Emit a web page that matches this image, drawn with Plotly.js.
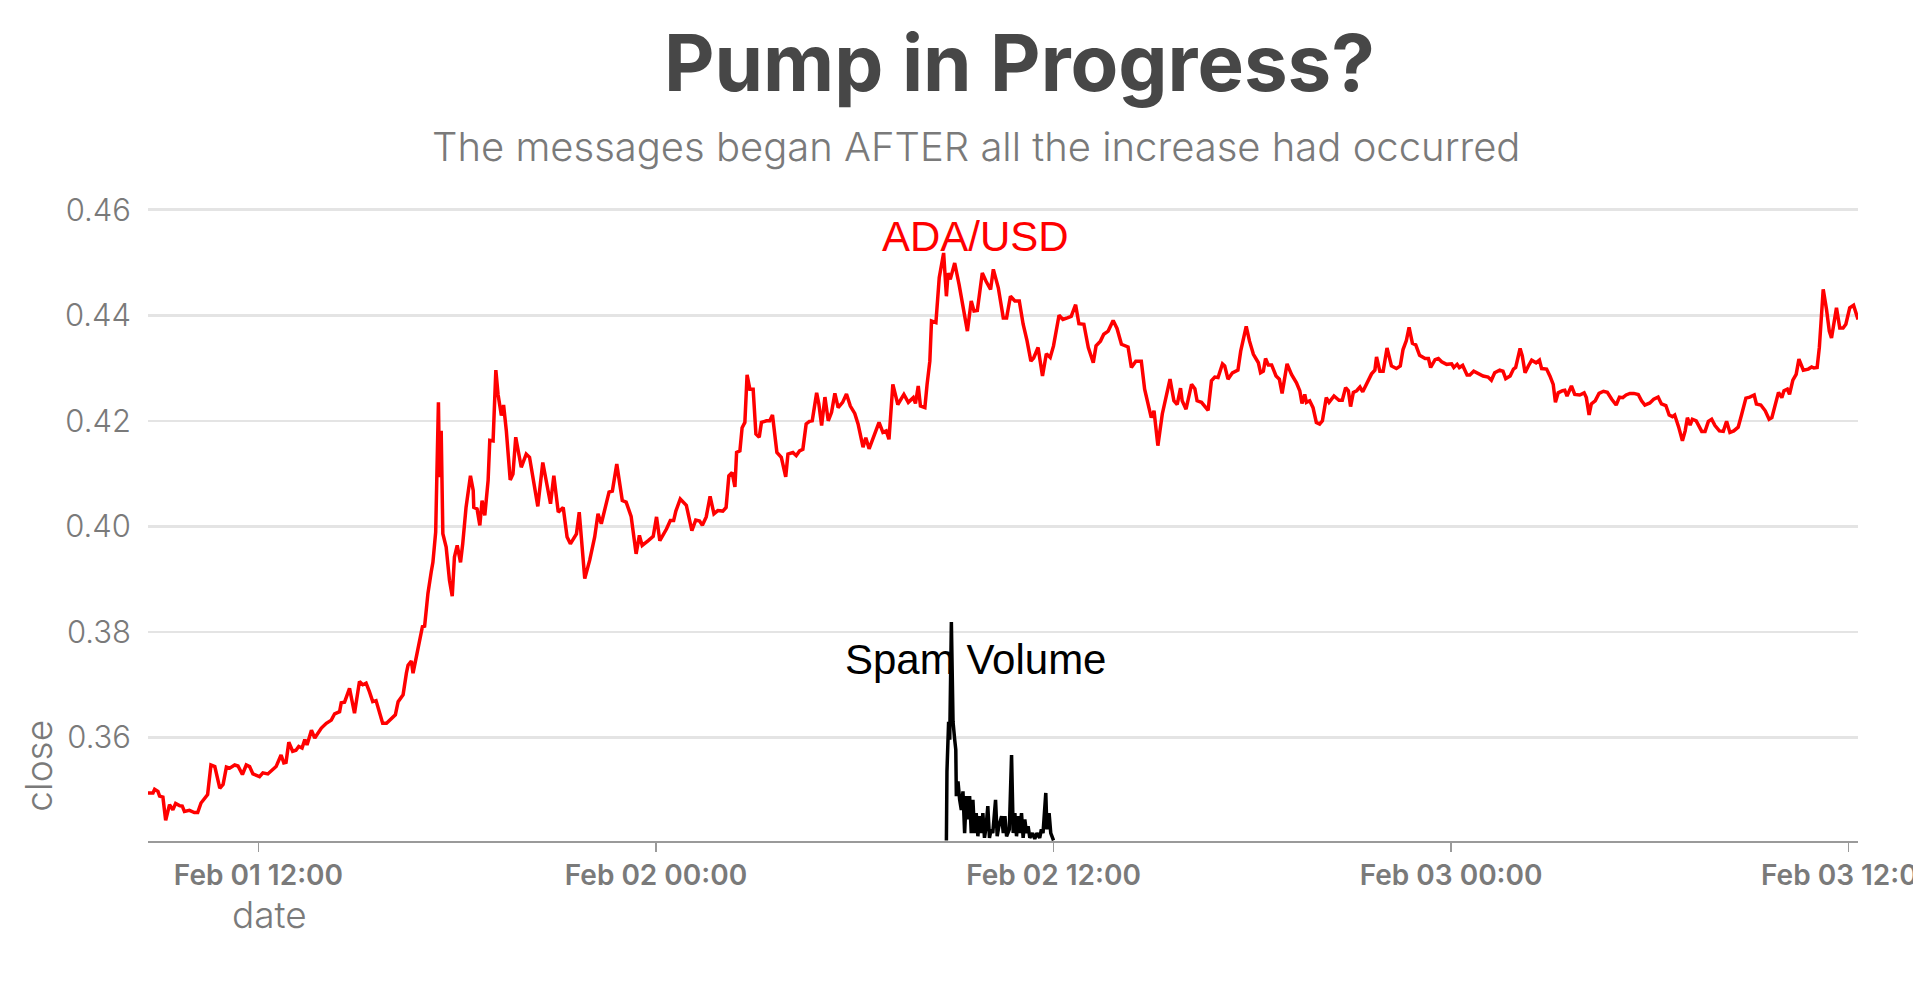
<!DOCTYPE html>
<html><head><meta charset="utf-8">
<script src="https://cdn.plot.ly/plotly-3.0.1.min.js"></script>
<style>html,body{margin:0;padding:0;background:#fff}#chart{width:1913px;height:985px}</style>
</head><body><div id="chart"></div>
<script>
// minutes since 2021-02-01 00:00 (UTC) and ADA/USD close
const priceMinutes = [520,529,532,538,541,547,552,559,565,570,577,582,586,595,604,610,616,625,628,634,641,650,656,662,668,677,683,691,698,704,710,722,728,737,746,752,761,766,770,775,782,788,793,799,804,808,816,822,834,843,852,858,867,870,876,885,894,903,909,915,921,927,933,939,945,952,958,964,968,973,982,988,991,997,1000,1006,1012,1017,1021,1027,1033,1036,1041,1043,1046,1048,1051,1054,1060,1066,1071,1075,1080,1086,1090,1096,1104,1109,1110,1116,1121,1125,1130,1136,1139,1145,
1150,1154,1160,1164,1169,1176,1181,1186,1196,1205,1211,1226,1235,1249,1255,1263,1272,1279,1285,1296,1301,1311,1320,1329,1335,1341,1347,1355,1361,1369,1379,1386,1395,1404,1410,1415,1426,1435,1441,1447,1459,1466,1472,1476,1484,1495,1505,1512,1519,1524,1531,1538,1545,1552,1561,1567,1572,1578,1583,1586,1592,1596,1601,1605,1610,1616,1621,1627,1631,1640,1646,1651,1659,1667,1675,1679,1688,1694,1700,1706,1712,1718,1723,1731,1735,1740,1746,1752,1758,
1764,1770,1778,1785,1792,1800,1806,1815,1820,1826,1833,1844,1851,1857,1862,1869,1878,1889,1897,1906,1910,1915,1919,1927,1931,1936,1939,1947,1953,1957,1961,1966,1969,1973,1981,1989,1996,2004,2011,2016,2022,2031,2038,2046,2051,2060,2069,2075,2082,2090,2098,2105,2112,2119,2124,2132,2140,2147,2154,2160,2170,2177,2185,2192,2200,2206,2215,2223,2232,2237,2245,2251,2259,2268,2275,2283,2295,2301,2309,2319,2325,2331,2337,2342,2349,2357,2365,
2371,2378,2384,2390,2393,2400,2410,2416,2420,2428,2434,2440,2446,2452,2458,2466,2470,2476,2484,2494,2499,2509,2515,2522,2531,2535,2540,2544,2549,2555,2563,2569,2574,2583,2591,2600,2606,2610,2615,2618,2624,2630,2636,2642,2647,2654,2659,2668,2677,2683,2689,2694,2698,2703,2709,2715,2720,2728,2736,2742,2745,2751,2757,2764,2772,2781,2788,2793,2799,2804,2810,2816,2823,2833,2839,2843,2851,2857,2863,2872,2881,2885,2891,2895,2901,2909,2914,2921,2927,2938,2947,2953,2959,2968,2974,2979,
2987,2993,2997,3005,3009,3014,3020,3026,3034,3040,3044,3053,3059,3065,3069,3074,3082,3086,3090,3098,3104,3113,3121,3125,3130,3134,3141,3148,3156,3163,3171,3179,3185,3191,3197,3204,3211,3219,3225,3231,3240,3247,3255,3261,3269,3275,3281,3285,3292,3299,3304,3308,3313,3317,3324,3334,3340,3346,3352,3358,3366,3373,3379,3385,3392,3400,3406,3414,3421,3429,3433,3441,3449,3456,3461,3467,3473,3479,3483,3489,3493,3499,3505,3510,3518,3527,3533,3537,3543,3547,3551,3554,3560,3565,3569,3578,3584,3590,3595,3602,3609,3615,3617];
const priceClose = [0.3495,0.3495,0.3502,0.3498,0.3489,0.3487,0.3443,0.3473,0.3463,0.3475,0.3471,0.3470,0.3460,0.3462,0.3458,0.3458,0.3476,0.3490,0.3492,0.3548,0.3545,0.3504,0.3511,0.3544,0.3542,0.3548,0.3546,0.3530,0.3548,0.3545,0.3531,0.3526,0.3533,0.3531,0.3539,0.3545,0.3567,0.3552,0.3553,0.3591,0.3574,0.3576,0.3583,0.3580,0.3596,0.3586,0.3614,0.3599,0.3618,0.3627,0.3633,0.3645,0.3649,0.3666,0.3667,0.3693,0.3646,0.3706,0.3700,0.3703,0.3687,0.3668,0.3670,0.3646,0.3627,0.3627,0.3633,0.3640,0.3643,0.3668,0.3681,0.3722,0.3737,0.3745,0.3722,0.3753,0.3785,0.3810,0.3811,0.3873,0.3914,0.3932,0.3989,0.4087,0.4235,0.4093,0.4181,0.3986,0.3961,0.3898,0.3868,0.3942,0.3964,0.3932,0.3967,0.4036,0.4096,0.4068,0.4036,0.4033,0.4002,0.4049,0.4021,0.4087,0.4163,0.4162,
0.4296,0.4250,0.4210,0.4230,0.4181,0.4088,0.4099,0.4169,0.4112,0.4137,0.4131,0.4038,0.4121,0.4043,0.4096,0.4027,0.4036,0.3980,0.3967,0.3986,0.4027,0.3901,0.3936,0.3980,0.4024,0.4005,0.4030,0.4065,0.4067,0.4118,0.4049,0.4046,0.4019,0.3948,0.3983,0.3964,0.3973,0.3981,0.4018,0.3973,0.3995,0.4011,0.4011,0.4029,0.4052,0.4040,0.3992,0.4012,0.4010,0.4002,0.4018,0.4057,0.4024,0.4030,0.4029,0.4036,0.4096,0.4102,0.4075,0.4140,0.4143,0.4187,0.4197,0.4287,0.4260,0.4260,0.4175,0.4169,0.4197,0.4200,0.4200,0.4211,0.4140,0.4131,0.4094,0.4137,0.4140,0.4134,0.4143,0.4146,0.4194,0.4199,0.4200,0.4253,0.4232,0.4191,0.4245,0.4200,0.4216,
0.4252,0.4225,0.4235,0.4251,0.4228,0.4214,0.4194,0.4150,0.4168,0.4147,0.4165,0.4197,0.4178,0.4181,0.4165,0.4269,0.4231,0.4250,0.4235,0.4244,0.4233,0.4266,0.4228,0.4225,0.4269,0.4313,0.4389,0.4386,0.4471,0.4496,0.4518,0.4436,0.4480,0.4468,0.4499,0.4458,0.4420,0.4370,0.4427,0.4408,0.4409,0.4480,0.4464,0.4449,0.4487,0.4452,0.4395,0.4395,0.4436,0.4427,0.4427,0.4383,0.4352,0.4313,0.4319,0.4339,0.4285,0.4327,0.4320,0.4342,0.4400,0.4392,0.4395,0.4398,0.4420,0.4384,0.4383,0.4339,0.4310,0.4342,0.4351,0.4364,0.4370,0.4390,0.4375,0.4345,0.4340,0.4301,0.4313,0.4313,0.4260,0.4235,0.4206,0.4219,0.4153,0.4213,0.4253,
0.4279,0.4238,0.4231,0.4262,0.4238,0.4222,0.4269,0.4261,0.4238,0.4235,0.4228,0.4220,0.4276,0.4283,0.4282,0.4308,0.4304,0.4279,0.4291,0.4296,0.4332,0.4379,0.4351,0.4326,0.4310,0.4291,0.4294,0.4318,0.4306,0.4306,0.4285,0.4279,0.4252,0.4308,0.4288,0.4272,0.4257,0.4233,0.4250,0.4235,0.4238,0.4225,0.4197,0.4194,0.4200,0.4244,0.4235,0.4247,0.4239,0.4239,0.4263,0.4257,0.4227,0.4254,0.4257,0.4264,0.4255,0.4272,0.4289,0.4296,0.4321,0.4294,0.4294,0.4338,0.4304,0.4299,0.4304,0.4335,0.4352,0.4377,0.4347,0.4344,0.4324,0.4318,0.4318,0.4301,0.4316,0.4318,0.4312,0.4307,0.4308,0.4301,0.4307,0.4301,0.4305,0.4287,0.4287,0.4294,0.4291,0.4285,0.4283,0.4277,0.4291,0.4296,0.4294,0.4280,
0.4285,0.4298,0.4301,0.4337,0.4323,0.4291,0.4304,0.4315,0.4310,0.4315,0.4299,0.4298,0.4285,0.4269,0.4235,0.4253,0.4257,0.4258,0.4247,0.4266,0.4250,0.4249,0.4253,0.4244,0.4211,0.4232,0.4238,0.4252,0.4256,0.4254,0.4241,0.4230,0.4245,0.4244,0.4249,0.4252,0.4252,0.4250,0.4238,0.4230,0.4234,0.4241,0.4245,0.4232,0.4229,0.4211,0.4208,0.4211,0.4189,0.4162,0.4181,0.4206,0.4192,0.4203,0.4200,0.4180,0.4180,0.4199,0.4203,0.4191,0.4181,0.4180,0.4199,0.4178,0.4181,0.4188,0.4211,0.4243,0.4245,0.4249,0.4232,0.4230,0.4219,0.4203,0.4206,0.4232,0.4254,0.4244,0.4257,0.4260,0.4250,0.4277,0.4288,0.4317,0.4296,0.4298,0.4302,0.4300,0.4301,0.4339,0.4395,0.4449,0.4411,0.4370,0.4357,0.4414,0.4376,0.4376,0.4383,0.4414,0.4419,0.4394,0.4392];

// spam message volume, rescaled onto the price axis
const spamMinutes = [1966,1967,1970,1972,1975,1978,1981,1983,1984,1987,1990,1993,1996,1999,2002,2005,2008,2011,2014,2017,2020,2023,2026,2029,2032,2035,2038,2041,2044,2047,2050,2055,2058,2061,2066,2069,2072,2075,2080,2084,2087,2090,2093,2096,2099,2102,2105,2108,2111,2114,2117,2122,2126,2130,2135,2138,2141,2146,2148,2152,2155,2158,2160];
const spamLevel = [0.3405,0.3536,0.3630,0.3596,0.3819,0.3630,0.3596,0.3577,0.3489,0.3517,0.3482,0.3463,0.3498,0.3419,0.3489,0.3445,0.3489,0.3419,0.3482,0.3419,0.3457,0.3413,0.3451,0.3419,0.3457,0.3410,0.3432,0.3470,0.3410,0.3426,0.3419,0.3482,0.3413,0.3432,0.3451,0.3419,0.3451,0.3413,0.3426,0.3567,0.3419,0.3457,0.3413,0.3451,0.3419,0.3457,0.3410,0.3445,0.3419,0.3432,0.3410,0.3419,0.3408,0.3419,0.3410,0.3426,0.3419,0.3495,0.3426,0.3457,0.3419,0.3410,0.3405];

const yTickValues = [0.36, 0.38, 0.40, 0.42, 0.44, 0.46];
const seriesLabels = ["ADA/USD", "Spam Volume"];

const baseDay = Date.UTC(2021, 1, 1);
const toDate = m => new Date(baseDay + m * 60000).toISOString().replace('T', ' ').replace('Z', '');

const grey = '#7a7a7a';
const uiFont = 'Inter, "Open Sans", sans-serif';

const traces = [
  {x: priceMinutes.map(toDate), y: priceClose, type: 'scatter', mode: 'lines',
   line: {color: '#ff0000', width: 3.5}, name: seriesLabels[0], hoverinfo: 'x+y'},
  {x: spamMinutes.map(toDate), y: spamLevel, type: 'scatter', mode: 'lines',
   line: {color: '#000000', width: 3.5}, name: seriesLabels[1], hoverinfo: 'x+y'}
];

const labelTime = toDate(2018);

const layout = {
  width: 1913, height: 985,
  margin: {l: 148, r: 55, t: 206, b: 144},
  paper_bgcolor: '#ffffff', plot_bgcolor: '#ffffff',
  showlegend: false,
  xaxis: {
    type: 'date',
    range: [toDate(priceMinutes[0]), toDate(priceMinutes[priceMinutes.length - 1])],
    tick0: toDate(0), dtick: 43200000, tickformat: '%b %d %H:%M',
    ticks: 'outside', ticklen: 9, tickwidth: 1.3, tickcolor: '#9a9a9a',
    showline: true, linecolor: '#9a9a9a', linewidth: 1.5,
    showgrid: false, zeroline: false,
    ticklabelstandoff: 0, ticklabeloverflow: 'allow',
    tickfont: {family: uiFont, size: 28, weight: 600, color: grey}
  },
  yaxis: {
    range: [0.3404, 0.4607],
    tickvals: yTickValues, tickformat: '.2f',
    showgrid: true, gridcolor: '#e4e4e4', gridwidth: 2.5,
    showline: false, zeroline: false, ticks: '',
    ticklabelstandoff: 16,
    tickfont: {family: uiFont, size: 31, weight: 300, color: grey}
  },
  annotations: [
    {text: 'Pump in Progress?', xref: 'paper', yref: 'paper', x: 0.5094, y: 1.226,
     xanchor: 'center', yanchor: 'middle', showarrow: false,
     font: {family: uiFont, size: 78, weight: 700, color: '#474747'}},
    {text: 'The messages began AFTER all the increase had occurred', xref: 'paper', yref: 'paper',
     x: 0.4842, y: 1.094, xanchor: 'center', yanchor: 'middle', showarrow: false,
     font: {family: uiFont, size: 40, weight: 300, color: grey}},
    {text: 'date', xref: 'paper', yref: 'paper', x: 0.0713, y: -0.115,
     xanchor: 'center', yanchor: 'middle', showarrow: false,
     font: {family: uiFont, size: 37, weight: 300, color: grey}},
    {text: 'close', xref: 'paper', yref: 'paper', x: -0.064, y: 0.118, textangle: -90,
     xanchor: 'center', yanchor: 'middle', showarrow: false,
     font: {family: uiFont, size: 37, weight: 300, color: grey}},
    {text: seriesLabels[0], xref: 'x', yref: 'y', x: labelTime, y: 0.4550,
     xanchor: 'center', yanchor: 'middle', showarrow: false,
     font: {family: '"Liberation Sans", Arial, sans-serif', size: 42, color: '#ff0000'}},
    {text: seriesLabels[1], xref: 'x', yref: 'y', x: labelTime, y: 0.3748,
     xanchor: 'center', yanchor: 'middle', showarrow: false,
     font: {family: '"Liberation Sans", Arial, sans-serif', size: 42, color: '#000000'}}
  ]
};

Plotly.newPlot('chart', traces, layout, {displayModeBar: false, staticPlot: true});
</script>
</body></html>
